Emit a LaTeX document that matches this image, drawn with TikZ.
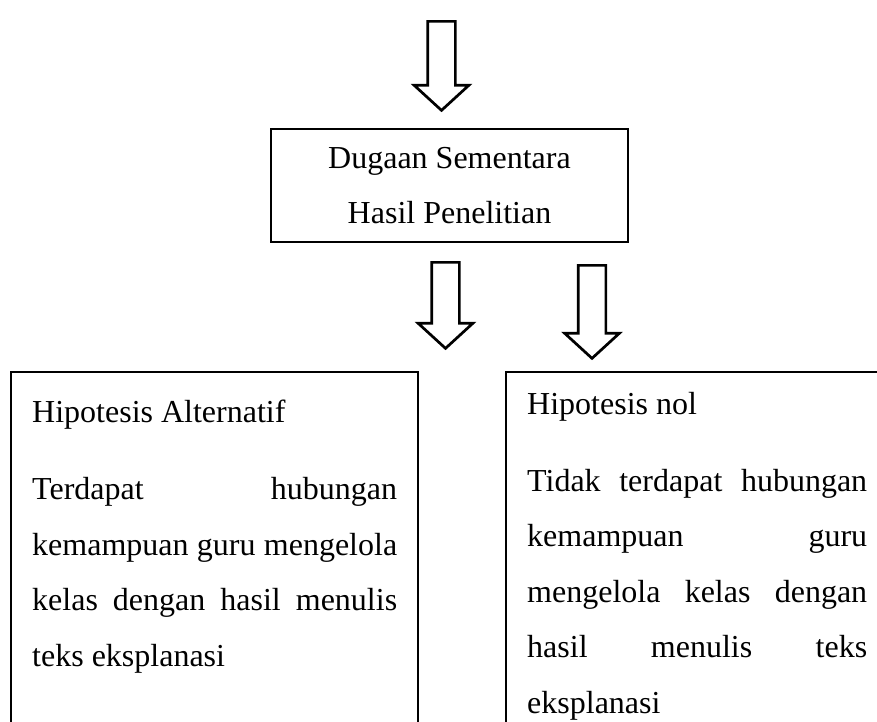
\documentclass[tikz,border=0pt]{standalone}
\usepackage{fontspec}
\setmainfont{Liberation Serif}
\usetikzlibrary{shapes.arrows}

\begin{document}
\begin{tikzpicture}[x=1pt,y=-1pt,
    garis/.style={line width=2.7pt},
    panah/.style={shape=single arrow, draw, garis, shape border rotate=270,
      inner sep=12.5pt, minimum width=0pt, single arrow head extend=13.5pt,
      single arrow tip angle=95},
    huruf/.style={font=\fontsize{32}{55.5}\selectfont},
    teks/.style={huruf, inner sep=0pt, anchor=base west},
    paragraf/.style={teks, align=justify}]
  \useasboundingbox (0,0) rectangle (877,721);
  \clip (0,0) rectangle (877,721);

  \node[panah, minimum height=89pt] (atas) at (441.5,59.5) {};
  \node[draw, garis, huruf, align=center, minimum width=357pt, minimum height=113pt] (dugaan) at (449.5,185.5) {Dugaan Sementara\\Hasil Penelitian};
  \node[panah, minimum height=86pt] (kealt) at (445.5,299) {};
  \node[panah, minimum height=93pt] (kenol) at (592,305.5) {};

  % kotak hipotesis, tanpa garis bawah
  \coordinate (altkiri) at (11,372);
  \coordinate (altkanan) at (418,372);
  \coordinate (nolkiri) at (506,372);
  \coordinate (nolkanan) at (900,372);
  \draw[garis] (11,740) -- (altkiri) -- (altkanan) -- (418,740);
  \draw[garis] (506,740) -- (nolkiri) -- (nolkanan);

  \node[teks] (judulalt) at (32,422) {Hipotesis Alternatif};
  \node[paragraf, text width=365pt] (isialt) at (32,499.5) {Terdapat hubungan\linebreak kemampuan guru mengelola\linebreak kelas dengan hasil menulis\linebreak teks eksplanasi};

  \node[teks] (judulnol) at (527,414) {Hipotesis nol};
  \node[paragraf, text width=340pt] (isinol) at (527,491) {Tidak terdapat hubungan\linebreak kemampuan guru\linebreak mengelola kelas dengan\linebreak hasil menulis teks\linebreak eksplanasi};
\end{tikzpicture}
\end{document}
